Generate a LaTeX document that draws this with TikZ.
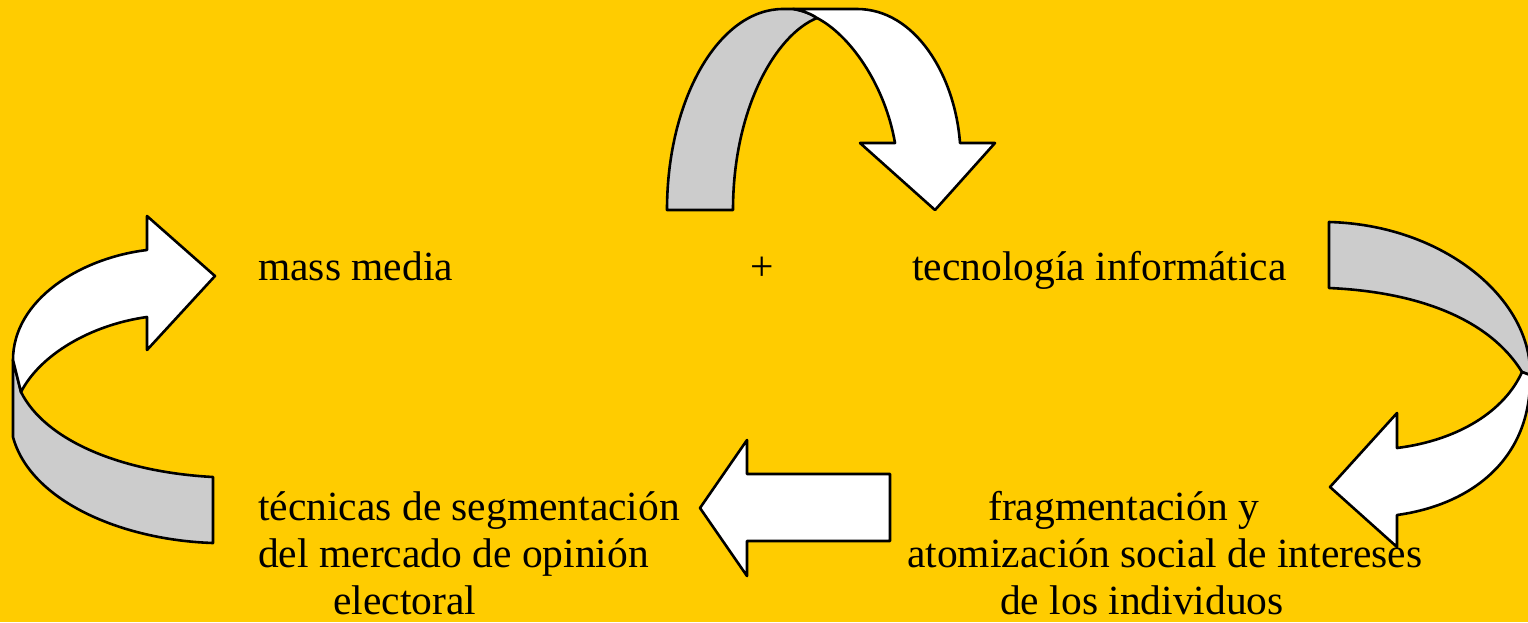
\documentclass[tikz,border=0pt]{standalone}
\usepackage{fontspec}
\setmainfont{Liberation Serif}
\usetikzlibrary{positioning}
\definecolor{fondo}{RGB}{255,204,0}
\definecolor{cinta}{RGB}{204,204,204}

\begin{document}
\begin{tikzpicture}[line cap=round,line join=round,x=1pt,y=-1pt,
  back/.style={draw=black,line width=2.6pt,fill=cinta},
  front/.style={draw=black,line width=2.6pt,fill=white},
  lbl/.style={inner sep=0pt,font=\fontsize{41.5}{47}\selectfont}]
\fill[fondo] (0,0) rectangle (1528,622);
\useasboundingbox (0,0) rectangle (1528,622);
%
% flecha de arriba
\draw[back] (667,210) -- (733,210) .. controls (733,110) and (775,35) .. (817,18)
  .. controls (810,13) and (800,10) .. (793,9) -- (783,9)
  .. controls (719,9) and (667,99) .. cycle;
\draw[front] (793,9) -- (857,9) .. controls (915,9) and (955,75) .. (960,143)
  -- (995,143) -- (935,210) -- (860,143) -- (895,143)
  .. controls (885,85) and (850,35) .. (817,18)
  .. controls (810,13) and (800,10) .. cycle;
%
% flecha de la derecha
\draw[back] (1329,222) .. controls (1445,225) and (1532,300) .. (1530,375)
  -- (1522,372) .. controls (1490,320) and (1420,292) .. (1329,288) -- cycle;
\draw[front] (1522,372) -- (1530,375) .. controls (1532,460) and (1470,505) .. (1397,515)
  -- (1397,547) -- (1330,487) -- (1397,413) -- (1397,448)
  .. controls (1460,440) and (1505,410) .. cycle;
%
% flecha recta
\draw[front] (890,474) -- (747,474) -- (747,440) -- (700,508)
  -- (747,576) -- (747,541) -- (890,541) -- cycle;
%
% flecha de la izquierda
\draw[back] (13,360) -- (13,437) .. controls (30,500) and (120,540) .. (213,543)
  -- (213,477) .. controls (120,472) and (45,440) .. (21,392) -- cycle;
\draw[front] (13,360) .. controls (13,300) and (80,258) .. (147,250)
  -- (147,216) -- (215,276) -- (147,350) -- (147,317)
  .. controls (90,325) and (40,355) .. (21,392) -- cycle;
%
% textos
\node[lbl,anchor=base west] (mm) at (258,280) {mass media};
\node[lbl,anchor=base] (mas) at (762,280) {+};
\node[lbl,anchor=base west] (ti) at (912,280) {tecnología informática};
\node[lbl,anchor=base west,align=left] (tec) at (258,614)
  {técnicas de segmentación\\del mercado de opinión\\\hspace*{75pt}electoral};
\node[lbl,anchor=base west,align=left] (frag) at (907,614)
  {\hspace*{81pt}fragmentación y\\atomización social de intereses\\\hspace*{93pt}de los individuos};
\end{tikzpicture}
\end{document}
